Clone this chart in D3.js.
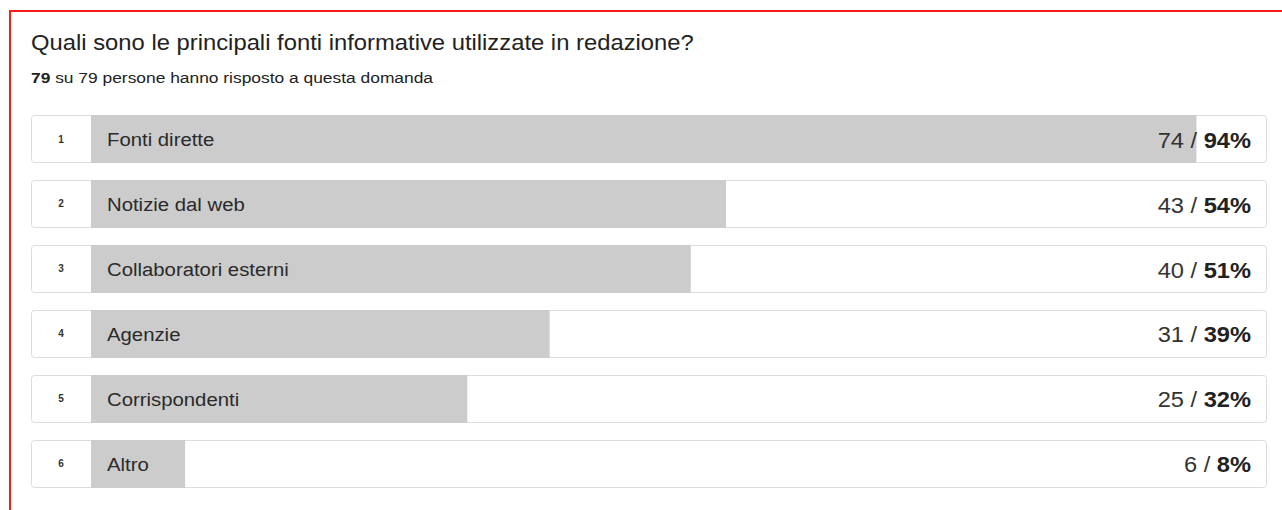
<!DOCTYPE html>
<html>
<head>
<meta charset="utf-8">
<script src="https://cdn.jsdelivr.net/npm/d3@7"></script>
<style>
  html, body { margin: 0; padding: 0; background: #fff; }
  svg { display: block; font-family: "Liberation Sans", Arial, sans-serif; }
</style>
</head>
<body>
<svg id="chart" width="1282" height="510"></svg>
<script>
// Survey question and answers
const title = "Quali sono le principali fonti informative utilizzate in redazione?";
const answered = 79;
const totalAsked = 79;
const categories = ["Fonti dirette", "Notizie dal web", "Collaboratori esterni", "Agenzie", "Corrispondenti", "Altro"];
const counts = [74, 43, 40, 31, 25, 6];
const percents = [94, 54, 51, 39, 32, 8];

const svg = d3.select("#chart");
const W = 1282, H = 510;

// Red frame around the panel (top and left edges visible)
svg.append("line").attr("x1", 9).attr("x2", W).attr("y1", 11).attr("y2", 11)
  .attr("stroke", "#ff1a1a").attr("stroke-width", 2);
svg.append("line").attr("x1", 10).attr("x2", 10).attr("y1", 10).attr("y2", H)
  .attr("stroke", "#ff1a1a").attr("stroke-width", 2);

// The page font renders a little wide; a slight horizontal stretch reproduces it
const wide = (sel, sx) => sel.attr("transform", function () {
  const t = d3.select(this);
  return `translate(${t.attr("data-x")},${t.attr("data-y")}) scale(${sx},1)`;
});

// Heading
svg.append("text").attr("data-x", 31).attr("data-y", 49.5)
  .attr("font-size", 22.5).attr("fill", "#222").text(title)
  .call(wide, 1.058);

const sub = svg.append("text").attr("data-x", 31).attr("data-y", 83)
  .attr("font-size", 14.5).attr("fill", "#222")
  .call(wide, 1.2);
sub.append("tspan").attr("font-weight", "bold").text(answered);
sub.append("tspan").text(` su ${totalAsked} persone hanno risposto a questa domanda`);

// Layout of the rows
const boxLeft = 31, boxRight = 1267, numW = 60;
const barLeft = boxLeft + numW;

const y = d3.scaleBand()
  .domain(categories)
  .range([115, 488])
  .paddingInner(0.2615)
  .paddingOuter(0);

const x = d3.scaleLinear().domain([0, 100]).range([0, boxRight - barLeft]);

const rows = svg.selectAll("g.row")
  .data(categories.map((c, i) => ({ c, i, n: counts[i], p: percents[i] })))
  .join("g").attr("class", "row")
  .attr("transform", d => `translate(0,${y(d.c)})`);

const bh = y.bandwidth();

// Outer box
rows.append("rect")
  .attr("x", boxLeft + 0.5).attr("y", 0.5)
  .attr("width", boxRight - boxLeft - 1).attr("height", bh - 1)
  .attr("rx", 3).attr("ry", 3)
  .attr("fill", "#fff").attr("stroke", "#dcdcdc");

// Bar
rows.append("rect")
  .attr("x", barLeft).attr("y", 0)
  .attr("width", d => x(d.p)).attr("height", bh)
  .attr("fill", "#cccccc");

// Rank number
rows.append("text")
  .attr("x", boxLeft + numW / 2).attr("y", bh / 2 + 3.5)
  .attr("text-anchor", "middle").attr("font-size", 10).attr("font-weight", "bold")
  .attr("fill", "#333").text(d => d.i + 1);

// Category label
rows.append("text")
  .attr("data-x", barLeft + 16).attr("data-y", bh / 2 + 7)
  .attr("font-size", 18).attr("fill", "#2a2a2a").text(d => d.c)
  .call(wide, 1.13);

// Count / percentage
const val = rows.append("text")
  .attr("data-x", boxRight - 16).attr("data-y", bh / 2 + 8.5)
  .attr("text-anchor", "end").attr("font-size", 21.5).attr("fill", "#333")
  .call(wide, 1.1);
val.append("tspan").text(d => `${d.n} / `);
val.append("tspan").attr("font-weight", "bold").attr("fill", "#222").text(d => `${d.p}%`);
</script>
</body>
</html>
